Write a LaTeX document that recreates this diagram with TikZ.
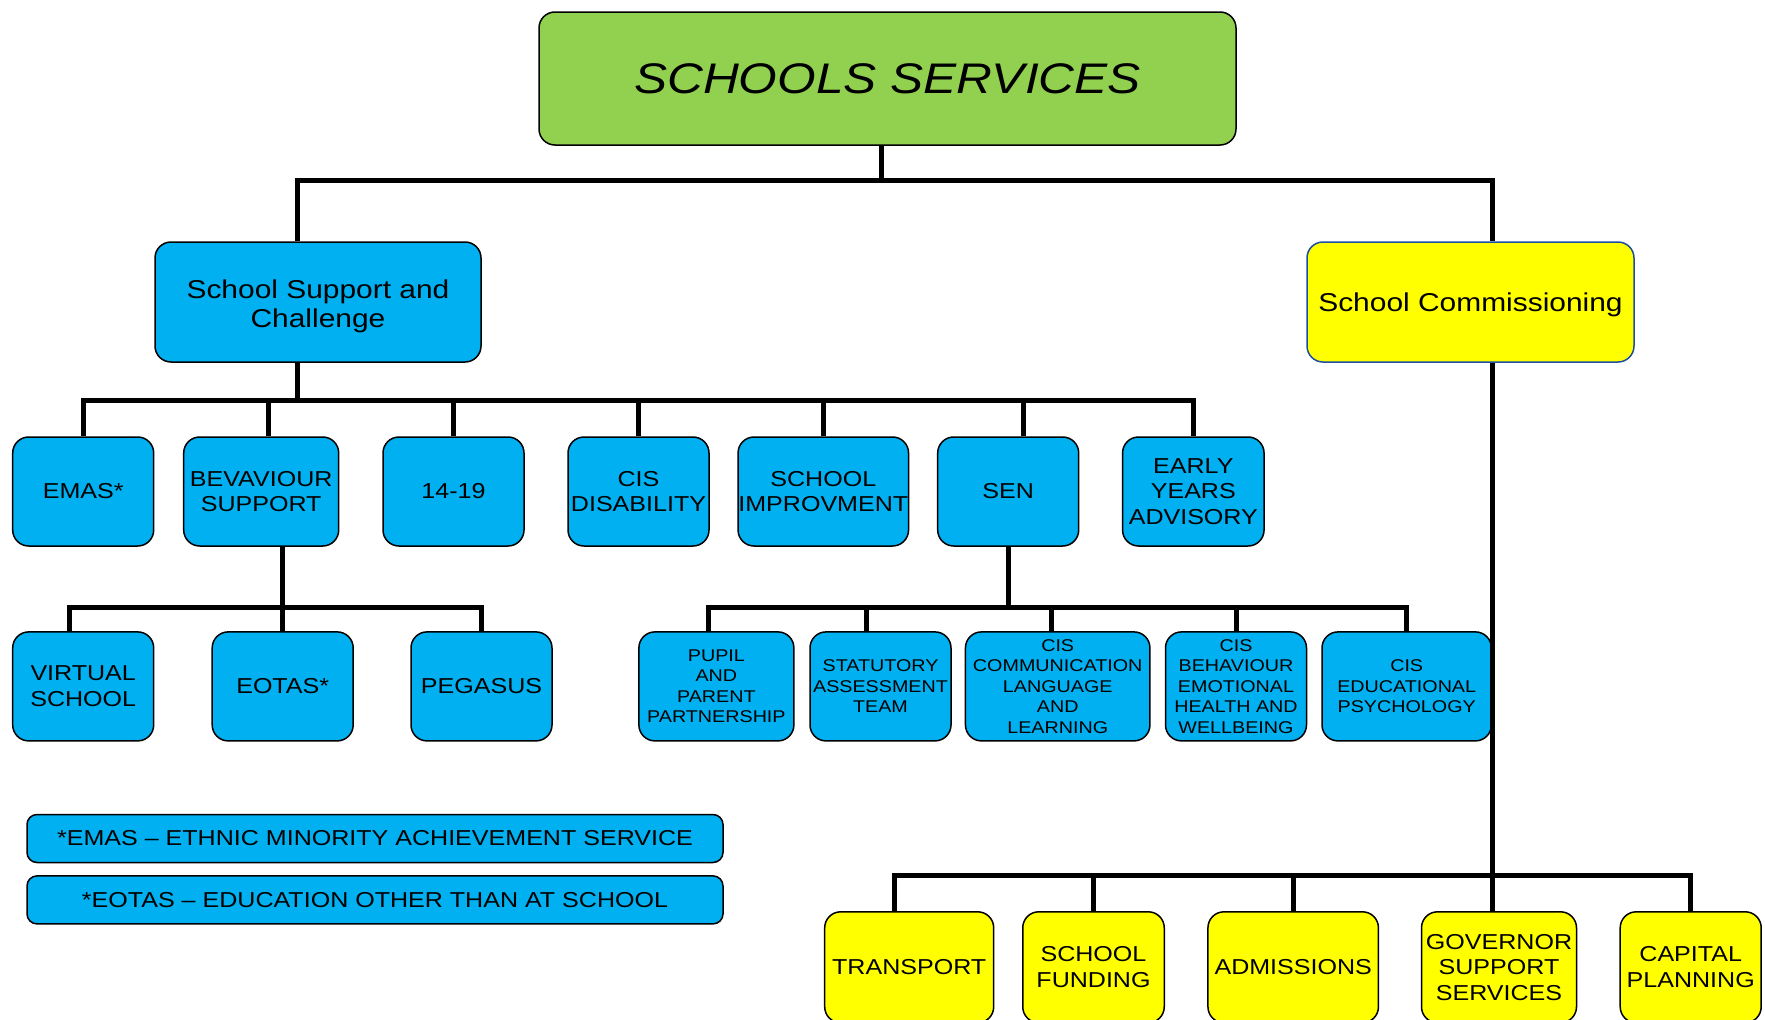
\documentclass[tikz,border=0pt]{standalone}
\usepackage{fontspec}
\setmainfont{Liberation Sans}[FakeStretch=1.16]
\usepackage{tikz}
\usetikzlibrary{arrows}

\definecolor{leafgreen}{HTML}{92D050}
\definecolor{skyblue}{HTML}{00B0F0}
\definecolor{lemon}{HTML}{FFFF00}
\definecolor{navyline}{HTML}{1F4EA0}

\newcommand{\fTitle}{\fontsize{42.8}{48}\selectfont\itshape}
\newcommand{\fMid}{\fontsize{25.8}{29}\selectfont}
\newcommand{\fUnit}{\fontsize{21.6}{25.5}\selectfont}
\newcommand{\fSmall}{\fontsize{17}{20.5}\selectfont}
\newcommand{\fNote}{\fontsize{21.6}{24}\selectfont}

\begin{document}
\begin{tikzpicture}[x=1pt,y=-1pt,semithick,
                    link/.style={line width=5pt},
                    box/.style={draw,line width=1.5pt,rounded corners=16pt,
                                align=center,inner sep=0pt}]

  \tikzstyle{unit}=[box,fill=skyblue,font=\fUnit,minimum height=109pt]
  \tikzstyle{subunit}=[box,fill=skyblue,font=\fSmall,minimum height=109pt]
  \tikzstyle{communit}=[box,fill=lemon,font=\fUnit,minimum height=111pt]
  \tikzstyle{note}=[box,fill=skyblue,font=\fNote,rounded corners=10pt,
                    minimum width=696pt,minimum height=48pt]

  \clip (0,0) rectangle (1765,1020);

  \node[box,fill=leafgreen,font=\fTitle,minimum width=697pt,minimum height=133pt]
        (top) at (887.5,78.5) {SCHOOLS SERVICES};
  \node[box,fill=skyblue,font=\fMid,minimum width=326pt,minimum height=120pt]
        (ssc) at (318,302) {\rule{0pt}{27pt}School Support and\\Challenge};
  \node[box,fill=lemon,draw=navyline,font=\fMid,minimum width=327pt,minimum height=120pt]
        (comm) at (1470.5,302) {\rule{0pt}{24pt}School Commissioning};

  \node[unit,minimum width=141pt]    (emas)     at (83.2,491.5)   {EMAS*};
  \node[unit,minimum width=155pt]    (bev)      at (261.2,491.5)  {BEVAVIOUR\\SUPPORT};
  \node[unit,minimum width=141pt]    (fourteen) at (453.5,491.5)  {14-19};
  \node[unit,minimum width=141pt]    (cisdis)   at (638.5,491.5)  {CIS\\DISABILITY};
  \node[unit,minimum width=170.5pt]  (schimp)   at (823.3,491.5)  {SCHOOL\\IMPROVMENT};
  \node[unit,minimum width=141pt]    (sen)      at (1008.2,491.5) {SEN};
  \node[unit,minimum width=141.5pt]  (early)    at (1193.3,491.5) {EARLY\\YEARS\\ADVISORY};

  \node[unit,minimum width=141pt]    (virtual)  at (83.2,686.4)   {VIRTUAL\\SCHOOL};
  \node[unit,minimum width=141pt]    (eotas)    at (282.7,686.4)  {EOTAS*};
  \node[unit,minimum width=141pt]    (pegasus)  at (481.5,686.4)  {PEGASUS};

  \node[subunit,minimum width=155pt]   (pupil)   at (716.4,686.4)  {PUPIL\\AND\\PARENT\\PARTNERSHIP};
  \node[subunit,minimum width=141pt]   (stat)    at (880.5,686.4)  {STATUTORY\\ASSESSMENT\\TEAM};
  \node[subunit,minimum width=184.5pt] (ciscomm) at (1057.7,686.4) {CIS\\COMMUNICATION\\LANGUAGE\\AND\\LEARNING};
  \node[subunit,minimum width=141pt]   (cisbeh)  at (1236,686.4)   {CIS\\BEHAVIOUR\\EMOTIONAL\\HEALTH AND\\WELLBEING};
  \node[subunit,minimum width=169.4pt] (cisedu)  at (1406.7,686.4) {CIS\\EDUCATIONAL\\PSYCHOLOGY};

  \node[communit,minimum width=169pt]   (transport) at (909.2,967.3)  {TRANSPORT};
  \node[communit,minimum width=141.5pt] (funding)   at (1093.5,967.3) {SCHOOL\\FUNDING};
  \node[communit,minimum width=170.5pt] (admit)     at (1293.2,967.3) {ADMISSIONS};
  \node[communit,minimum width=155pt]   (governor)  at (1499,967.3)   {GOVERNOR\\SUPPORT\\SERVICES};
  \node[communit,minimum width=141pt]   (capital)   at (1690.7,967.3) {CAPITAL\\PLANNING};

  \node[note] (emasnote)  at (375,838.5) {*EMAS -- ETHNIC MINORITY ACHIEVEMENT SERVICE};
  \node[note] (eotasnote) at (375,899.9) {*EOTAS -- EDUCATION OTHER THAN AT SCHOOL};

  % bar levels
  \coordinate (lv1) at (0,180);
  \coordinate (lv2) at (0,400);
  \coordinate (lv3) at (0,607);
  \coordinate (lv4) at (0,875);

  % top level
  \draw[link] ([xshift=-6.5pt]top.south) -- ([xshift=-6.5pt]top.south |- lv1);
  \draw[link] ([xshift=-21pt]ssc.north) |- ([xshift=21.5pt]comm.north |- lv1)
              -- ([xshift=21.5pt]comm.north);

  % school support and challenge
  \draw[link] ([xshift=-21pt]ssc.south) -- ([xshift=-21pt]ssc.south |- lv2);
  \draw[link] (emas.north) |- (early.north |- lv2) -- (early.north);
  \draw[link] ([xshift=7pt]bev.north) -- ([xshift=7pt]bev.north |- lv2);
  \draw[link] (fourteen.north) -- (fourteen.north |- lv2);
  \draw[link] (cisdis.north) -- (cisdis.north |- lv2);
  \draw[link] (schimp.north) -- (schimp.north |- lv2);
  \draw[link] ([xshift=15pt]sen.north) -- ([xshift=15pt]sen.north |- lv2);

  % behaviour support
  \draw[link] (eotas.north |- bev.south) -- (eotas.north);
  \draw[link] ([xshift=-14pt]virtual.north) |- (pegasus.north |- lv3) -- (pegasus.north);

  % sen
  \draw[link] (sen.south) -- (sen.south |- lv3);
  \draw[link] ([xshift=-7.5pt]pupil.north) |- (cisedu.north |- lv3) -- (cisedu.north);
  \draw[link] ([xshift=-14.5pt]stat.north) -- ([xshift=-14.5pt]stat.north |- lv3);
  \draw[link] ([xshift=-6.7pt]ciscomm.north) -- ([xshift=-6.7pt]ciscomm.north |- lv3);
  \draw[link] (cisbeh.north) -- (cisbeh.north |- lv3);

  % school commissioning
  \draw[link] ([xshift=-7pt]governor.north |- comm.south) -- ([xshift=-7pt]governor.north);
  \draw[link] ([xshift=-15pt]transport.north) |- (capital.north |- lv4) -- (capital.north);
  \draw[link] (funding.north) -- (funding.north |- lv4);
  \draw[link] (admit.north) -- (admit.north |- lv4);
\end{tikzpicture}
\end{document}
